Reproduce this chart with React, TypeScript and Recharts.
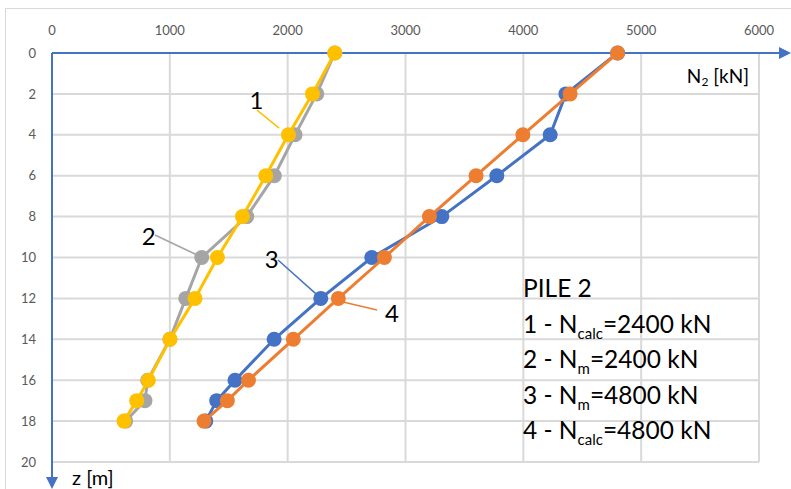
import {
  ScatterChart,
  Scatter,
  XAxis,
  YAxis,
  CartesianGrid,
  ReferenceLine,
  ReferenceDot,
} from 'recharts'

const DEPTHS = [0, 2, 4, 6, 8, 10, 12, 14, 16, 17, 18]
const N_CALC_2400 = [2400, 2210, 2006, 1814, 1616, 1404, 1214, 1002, 818, 719, 611]
const N_M_2400 = [2400, 2247, 2063, 1887, 1653, 1271, 1135, 1000, 812, 789, 625]
const N_M_4800 = [4800, 4361, 4228, 3775, 3308, 2714, 2281, 1885, 1553, 1398, 1305]
const N_CALC_4800 = [4800, 4397, 3996, 3599, 3203, 2821, 2430, 2048, 1667, 1488, 1290]

const X_TICKS = [0, 1000, 2000, 3000, 4000, 5000, 6000]
const Y_TICKS = [0, 2, 4, 6, 8, 10, 12, 14, 16, 18, 20]

// annotation labels: [text, label pos, leader start, leader end, colour]
const CALLOUTS: { text: string; at: [number, number]; from: [number, number]; to: [number, number]; color: string }[] = [
  { text: '1', at: [1735, 2.3], from: [1740, 2.79], to: [1927, 3.67], color: '#FFC000' },
  { text: '2', at: [820, 8.95], from: [874, 8.9], to: [1231, 9.88], color: '#A5A5A5' },
  { text: '3', at: [1865, 10.1], from: [1918, 10.12], to: [2250, 11.83], color: '#4472C4' },
  { text: '4', at: [2885, 12.75], from: [2759, 12.57], to: [2470, 12.18], color: '#ED7D31' },
]

const toPoints = (vals: number[]) => vals.map((n, i) => ({ n, z: DEPTHS[i] }))

const SERIES = [
  { name: '2', color: '#A5A5A5', data: toPoints(N_M_2400) },
  { name: '1', color: '#FFC000', data: toPoints(N_CALC_2400) },
  { name: '3', color: '#4472C4', data: toPoints(N_M_4800) },
  { name: '4', color: '#ED7D31', data: toPoints(N_CALC_4800) },
]

const FONT = 'Lato, "Open Sans", sans-serif'

const dot = (color: string) => (props: any) => (
  <circle cx={props.cx} cy={props.cy} r={7.5} fill={color} />
)

export default function App() {
  const tick = { fontSize: 13, fill: '#595959', fontFamily: FONT }
  const sub = { fontSize: 15, verticalAlign: '-6px', lineHeight: 0 }
  const row = { height: 35.5 }

  return (
    <div style={{ position: 'absolute', left: 0, top: 0, width: 791, height: 489, background: '#fff', overflow: 'hidden' }}>
      <div style={{ position: 'absolute', left: 5, top: 8, width: 800, height: 500, border: '1px solid #D9D9D9' }} />
      <ScatterChart width={791} height={489} margin={{ top: 23, right: 32, bottom: 27, left: 12 }}>
        <CartesianGrid stroke="#D9D9D9" strokeWidth={2} />
        <XAxis
          type="number"
          dataKey="n"
          orientation="top"
          domain={[0, 6000]}
          ticks={X_TICKS}
          height={30}
          tickLine={false}
          tickMargin={12}
          axisLine={{ stroke: '#4472C4', strokeWidth: 2 }}
          tick={tick}
        />
        <YAxis
          type="number"
          dataKey="z"
          reversed
          domain={[0, 20]}
          ticks={Y_TICKS}
          width={40}
          tickLine={false}
          tickMargin={10}
          axisLine={{ stroke: '#4472C4', strokeWidth: 2 }}
          tick={tick}
        />
        {SERIES.map((s) => (
          <Scatter
            key={s.name}
            name={s.name}
            data={s.data}
            line={{ stroke: s.color, strokeWidth: 3 }}
            lineType="joint"
            shape={dot(s.color)}
            isAnimationActive={false}
          />
        ))}
        {CALLOUTS.map((c) => (
          <ReferenceLine
            key={'l' + c.text}
            segment={[{ x: c.from[0], y: c.from[1] }, { x: c.to[0], y: c.to[1] }]}
            stroke={c.color}
            strokeWidth={1.5}
            ifOverflow="visible"
          />
        ))}
        {CALLOUTS.map((c) => (
          <ReferenceDot
            key={'t' + c.text}
            x={c.at[0]}
            y={c.at[1]}
            r={0}
            ifOverflow="visible"
            label={{ value: c.text, position: 'center', fontSize: 24, fill: '#000', fontFamily: FONT }}
          />
        ))}
      </ScatterChart>
      <svg width={791} height={489} style={{ position: 'absolute', left: 0, top: 0, pointerEvents: 'none' }}>
        <line x1={759} y1={53} x2={781} y2={53} stroke="#4472C4" strokeWidth={2} />
        <polygon points="791,53 779,47 779,59" fill="#4472C4" />
        <line x1={52} y1={462} x2={52} y2={480} stroke="#4472C4" strokeWidth={2} />
        <polygon points="52,489 46,477 58,477" fill="#4472C4" />
      </svg>
      <div style={{ position: 'absolute', right: 42, top: 63, fontFamily: FONT, fontSize: 19, lineHeight: '26px', color: '#000' }}>
        N<sub style={{ fontSize: 12, verticalAlign: '-3px', lineHeight: 0 }}>2</sub> [kN]
      </div>
      <div style={{ position: 'absolute', left: 72, top: 464, fontFamily: FONT, fontSize: 20, lineHeight: '26px', color: '#000' }}>
        z [m]
      </div>
      <div style={{ position: 'absolute', left: 523, top: 270, fontFamily: FONT, fontSize: 24.5, lineHeight: '35.5px', color: '#000', whiteSpace: 'nowrap' }}>
        <div style={row}>PILE 2</div>
        <div style={row}>1 - N<sub style={sub}>calc</sub>=2400 kN</div>
        <div style={row}>2 - N<sub style={sub}>m</sub>=2400 kN</div>
        <div style={row}>3 - N<sub style={sub}>m</sub>=4800 kN</div>
        <div style={row}>4 - N<sub style={sub}>calc</sub>=4800 kN</div>
      </div>
    </div>
  )
}
